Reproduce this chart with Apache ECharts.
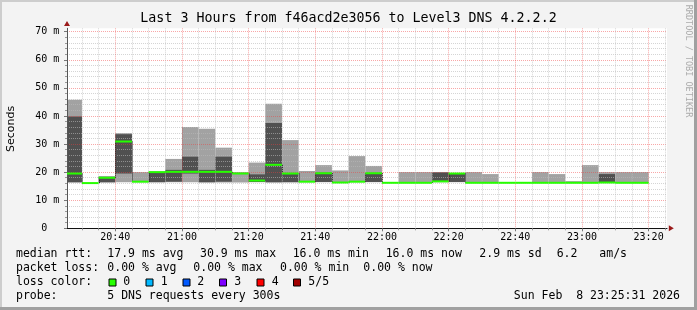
<!DOCTYPE html>
<html><head><meta charset="utf-8">
<script src="https://cdn.jsdelivr.net/npm/echarts@6/dist/echarts.min.js"></script>
<style>html,body{margin:0;padding:0;background:#f3f3f3}#c{width:697px;height:310px}</style>
</head><body><div id="c"></div>
<script>
// ---- data ----
const slotEnds = ['20:30','20:35','20:40','20:45','20:50','20:55','21:00','21:05','21:10','21:15','21:20','21:25',
  '21:30','21:35','21:40','21:45','21:50','21:55','22:00','22:05','22:10','22:15','22:20','22:25',
  '22:30','22:35','22:40','22:45','22:50','22:55','23:00','23:05','23:10','23:15','23:20'];
const pingMin = [16.3,16.1,16.3,16.4,16.4,16.4,16.4,16.4,16.3,16.3,16.3,16.4,
  16.3,16.4,16.4,16.4,16.2,16.4,16.4,16.2,16.2,16.2,16.4,16.4,
  16.2,16.2,16.2,16.2,16.2,16.2,16.2,16.2,16.1,16.2,16.2];
const ping2 = [16.4,16.1,16.4,19.5,16.5,16.4,16.6,19.5,16.4,16.6,19.4,16.5,
  16.4,16.4,16.5,16.5,16.2,16.5,16.5,16.2,16.2,16.2,16.5,16.5,
  16.2,16.2,16.2,16.2,16.2,16.2,16.2,16.2,16.2,16.2,16.2];
const median = [19.5,16.1,18.0,30.9,16.6,20.0,20.1,20.1,20.1,20.1,19.5,17.0,
  22.6,19.5,16.6,19.6,16.3,16.6,19.6,16.2,16.2,16.2,16.7,19.5,
  16.2,16.2,16.2,16.2,16.2,16.2,16.2,16.2,16.3,16.2,16.2];
const ping4 = [39.8,16.1,18.4,33.5,16.7,20.1,20.8,25.5,20.8,25.5,19.6,19.2,
  37.5,19.7,16.7,19.8,16.4,16.7,19.7,16.2,16.3,16.3,19.9,19.6,
  16.3,16.3,16.2,16.2,16.3,16.3,16.3,16.3,19.3,16.3,16.3];
const pingMax = [45.8,16.1,18.4,33.9,20.0,20.1,24.7,36.1,35.4,28.7,20.0,23.4,
  44.3,31.4,20.4,22.5,20.6,25.7,22.2,16.2,20.0,20.0,20.0,19.7,
  20.0,19.3,16.2,16.2,20.0,19.3,16.8,22.5,20.0,20.0,20.0];
const lossCount = [0,0,0,0,0,0,0,0,0,0,0,0,0,0,0,0,0,0,0,0,0,0,0,0,0,0,0,0,0,0,0,0,0,0,0];
const xTickLabels = ['20:40','21:00','21:20','21:40','22:00','22:20','22:40','23:00','23:20'];
const yTickValues = [0,10,20,30,40,50,60,70];
const yTickLabels = ['0  ','10 m','20 m','30 m','40 m','50 m','60 m','70 m'];
const lossLabels = ['0','1','2','3','4','5/5'];
const lossColors = ['#26ff00','#00b8ff','#0059ff','#7e00ff','#ff0000','#a10000'];
const titleText = 'Last 3 Hours from f46acd2e3056 to Level3 DNS 4.2.2.2';
const rttRow = ['median rtt:','17.9 ms avg','30.9 ms max','16.0 ms min','16.0 ms now','2.9 ms sd','6.2','am/s'];
const lossRow = ['packet loss:','0.00 % avg','0.00 % max','0.00 % min','0.00 % now'];
const probeRow = ['probe:','5 DNS requests every 300s'];
const stampText = 'Sun Feb  8 23:25:31 2026';

// ---- layout / style ----
const MONO = '"DejaVu Sans Mono"';
const STEP = 5;
const toMin = s => { const p = s.split(':').map(Number); return p[0] * 60 + p[1]; };
const tStart = toMin('20:25') + 31 / 60;
const tEnd = tStart + 180;
const majorX = xTickLabels.map(toMin);
const minorX = [];
for (let t = toMin('20:30'); t <= tEnd; t += STEP) if (majorX.indexOf(t) < 0) minorX.push(t);
const minorY = [];
for (let v = 2; v <= 70; v += 2) if (v % 10) minorY.push(v);
const fmtTime = v => { const h = Math.floor(v / 60), m = Math.round(v - h * 60); return h + ':' + (m < 10 ? '0' : '') + m; };

const lightSmoke = '#a2a2a2', darkSmoke = '#505050';
const minorGrid = 'rgba(185,185,185,0.6)', majorGrid = 'rgba(240,60,60,0.45)';
const arrowColor = '#9a1a1a';

const smokeData = slotEnds.map((s, i) => [toMin(s), pingMin[i], ping2[i], median[i], ping4[i], pingMax[i], lossCount[i]]);

function band(api, cs, t0, t1, lo, hi) {
  const a = api.coord([t0, hi]), b = api.coord([t1, lo]);
  return echarts.graphic.clipRectByRect({x: a[0], y: a[1], width: b[0] - a[0], height: b[1] - a[1]},
    {x: cs.x, y: cs.y, width: cs.width, height: cs.height});
}

const chart = echarts.init(document.getElementById('c'), null, {renderer: 'canvas'});

const graphics = [
  {type: 'rect', shape: {x: 0, y: 0, width: 697, height: 2}, style: {fill: '#cdcdcd'}, silent: true},
  {type: 'rect', shape: {x: 0, y: 0, width: 2, height: 310}, style: {fill: '#cdcdcd'}, silent: true},
  {type: 'rect', shape: {x: 694, y: 0, width: 3, height: 310}, style: {fill: '#a0a0a0'}, silent: true},
  {type: 'rect', shape: {x: 0, y: 307, width: 697, height: 3}, style: {fill: '#a0a0a0'}, silent: true},
  {type: 'text', x: 348.5, y: 19, style: {text: titleText, font: '13.3px ' + MONO, fill: '#000', align: 'center', verticalAlign: 'middle'}},
  {type: 'text', x: 688.5, y: 61, rotation: -Math.PI / 2, style: {text: 'RRDTOOL / TOBI OETIKER', font: '8.5px ' + MONO, fill: '#ababab', align: 'center', verticalAlign: 'middle'}},
  {type: 'text', x: 11, y: 129, rotation: Math.PI / 2, style: {text: 'Seconds', font: '11px "DejaVu Sans"', fill: '#000', align: 'center', verticalAlign: 'middle'}}
];
const legendFont = '11.5px ' + MONO;
function addText(txt, x, y, align) {
  graphics.push({type: 'text', x: x, y: y, style: {text: txt, font: legendFont, fill: '#000', align: align || 'left', verticalAlign: 'middle'}});
}
const rttX = [16, 107.3, 200, 292.7, 385.7, 479.3, 556.7, 599.3];
rttRow.forEach((t, i) => addText(t, rttX[i], 254.3));
const lossX = [16, 107.3, 193.3, 280, 363.3];
lossRow.forEach((t, i) => addText(t, lossX[i], 268.3));
addText('loss color:', 16, 282.3);
const boxX = [109, 146, 183, 219.5, 257, 293.5];
const lblX = [123.3, 160.7, 197.3, 234.3, 271.7, 308.3];
lossLabels.forEach((l, i) => {
  graphics.push({type: 'rect', shape: {x: boxX[i], y: 279, width: 7, height: 7}, style: {fill: lossColors[i], stroke: '#000', lineWidth: 1}});
  addText(l, lblX[i], 282.3);
});
addText(probeRow[0], 16, 296.3);
addText(probeRow[1], 107.3, 296.3);
addText(stampText, 680, 296.3, 'right');

const option = {
  animation: false,
  backgroundColor: '#f3f3f3',
  grid: {left: 67, top: 28.3, width: 600, height: 200, show: true, backgroundColor: '#ffffff', borderWidth: 0, outerBoundsMode: 'none'},
  xAxis: [
    {
      type: 'value', min: tStart, max: tEnd, position: 'bottom', z: 3,
      axisLine: {show: true, onZero: false, lineStyle: {color: '#111', width: 1}},
      axisTick: {show: true, customValues: majorX, length: 3, lineStyle: {color: '#777'}},
      axisLabel: {show: true, customValues: majorX, formatter: v => fmtTime(v), fontFamily: MONO, fontSize: 10, color: '#000', margin: 4},
      splitLine: {show: true, lineStyle: {color: majorGrid, type: [1, 1], width: 1}}
    },
    {
      type: 'value', min: tStart, max: tEnd, position: 'bottom', z: 3,
      axisLine: {show: true, onZero: false, symbol: ['none', 'triangle'], symbolSize: [6, 5], symbolOffset: [0, 4.3], lineStyle: {color: arrowColor, width: 0}},
      axisTick: {show: true, customValues: minorX, length: 2, lineStyle: {color: '#999'}},
      axisLabel: {show: false},
      splitLine: {show: true, lineStyle: {color: minorGrid, type: [1, 1], width: 1}}
    }
  ],
  yAxis: [
    {
      type: 'value', min: 0, max: 71.2, z: 3,
      axisLine: {show: true, onZero: false, lineStyle: {color: '#555', width: 1}},
      axisTick: {show: true, customValues: yTickValues, length: 3, lineStyle: {color: '#777'}},
      axisLabel: {show: true, customValues: yTickValues, formatter: v => yTickLabels[yTickValues.indexOf(v)], fontFamily: MONO, fontSize: 10, color: '#000', margin: 7.7},
      splitLine: {show: true, lineStyle: {color: majorGrid, type: [1, 1], width: 1}}
    },
    {
      type: 'value', min: 0, max: 71.2, z: 3, position: 'left',
      axisLine: {show: true, onZero: false, symbol: ['none', 'triangle'], symbolSize: [6, 5], symbolOffset: [0, 4.8], lineStyle: {color: arrowColor, width: 0}},
      axisTick: {show: true, customValues: minorY, length: 2, lineStyle: {color: '#999'}},
      axisLabel: {show: false},
      splitLine: {show: true, lineStyle: {color: minorGrid, type: [1, 1], width: 1}}
    }
  ],
  series: [
    {
      type: 'custom', name: 'smoke', xAxisIndex: 0, yAxisIndex: 0, z: 2, silent: true,
      data: smokeData,
      renderItem: (params, api) => {
        const cs = params.coordSys;
        const t1 = api.value(0), t0 = t1 - STEP;
        const children = [];
        const outer = band(api, cs, t0, t1, api.value(1), api.value(5));
        const inner = band(api, cs, t0, t1, api.value(2), api.value(4));
        if (outer) children.push({type: 'rect', shape: outer, style: {fill: lightSmoke}});
        if (inner) children.push({type: 'rect', shape: inner, style: {fill: darkSmoke}});
        return {type: 'group', children: children};
      }
    },
    {
      type: 'custom', name: 'median', xAxisIndex: 0, yAxisIndex: 0, z: 5, silent: true,
      data: smokeData,
      renderItem: (params, api) => {
        const cs = params.coordSys, i = params.dataIndex;
        const t1 = api.value(0), t0 = t1 - STEP, m = api.value(3);
        const a = api.coord([t0, m]), b = api.coord([t1, m]);
        const x0 = Math.max(a[0], cs.x);
        const children = [];
        if (i > 0) {
          const p = api.coord([t0, smokeData[i - 1][3]]);
          children.push({type: 'line', shape: {x1: Math.round(a[0]) + 0.5, y1: p[1], x2: Math.round(a[0]) + 0.5, y2: a[1]},
            style: {stroke: '#222', lineWidth: 1, lineDash: [1, 1]}});
        }
        children.push({type: 'rect', shape: {x: x0, y: a[1] - 1, width: b[0] - x0, height: 2}, style: {fill: lossColors[api.value(6)]}});
        return {type: 'group', children: children};
      }
    }
  ],
  graphic: graphics
};
chart.setOption(option);
</script></body></html>
